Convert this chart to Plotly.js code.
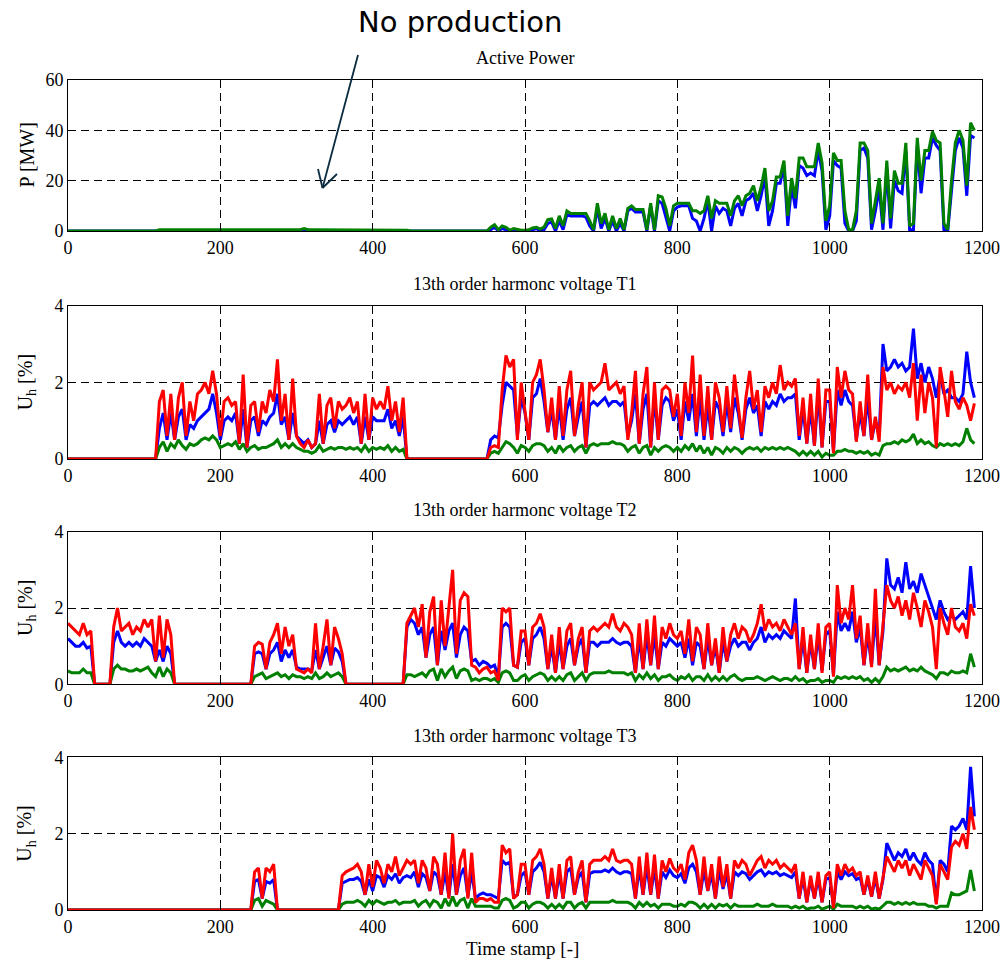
<!DOCTYPE html>
<html>
<head>
<meta charset="utf-8">
<script src="https://cdn.plot.ly/plotly-3.0.1.min.js"></script>
<style>
  html, body { margin: 0; padding: 0; background: #fff; }
  #chart { width: 1003px; height: 963px; }
</style>
</head>
<body>
<div id="chart"></div>
<script>
// ---------------- DATA ----------------
// time stamps 0..1190, sampled every 5
const timeStamps = [];
for (let t = 0; t <= 1190; t += 5) timeStamps.push(t);

const xTicks = [0, 200, 400, 600, 800, 1000, 1200];
const pTicks = [0, 20, 40, 60];
const uTicks = [0, 2, 4];

const titles = ["Active Power", "13th order harmonc voltage T1", "13th order harmonc voltage T2", "13th order harmonc voltage T3"];

// Active power P [MW]
const pGreen = [
0,0,0,0,0,0,0,0,0,0,0,0,0,0,0,0,0,0,0,0,
0,0,0,0,0.5,0.5,0.5,0.5,0.5,0.5,0.5,0.5,0.5,0.5,0.5,0.5,0.5,0.5,0.5,0.5,
0.5,0.5,0.5,0.5,0.5,0.5,0.5,0.5,0.5,0.5,0.5,0.5,0.5,0.5,0.5,0.5,0.5,0.5,0.5,0.5,
0.5,0.5,1,0.5,0.5,0.5,0.5,0.5,0.5,0.5,0.5,0.5,0.5,0.5,0.5,0.5,0.5,0.5,0.5,0.5,
0.5,0.5,0.5,0.5,0.5,0.5,0.5,0.5,0.5,0.3,0,0,0,0,0,0,0,0,0,0,
0,0,0,0,0,0,0,0,0,0,0,1.5,2.5,0.5,2,1.5,0.3,1,0.5,0.3,
0.3,0.5,1.2,1.5,0.8,1.5,4.5,4.8,1,6,2,8,7,7,7,7,7,4,0.5,11,
3,7,0.5,6,1,5,0.5,9,10,8.5,8.5,8.5,0.5,11,0.5,14,13.5,9,2,10,
11,11,11,11,8,8,7,8,14,5,12,11,11,11,6,12,14,10,14,15,
18,12,17.5,25,8,12,21.5,21.5,28,6,21,13,29,29,25.5,25.5,25.5,35,27,4,
10,31,28,28,8,0.5,0.5,8,35,35,32,3,12,21,3,28,5,24,19,19,
35,2,3,37,20,32,32,39.5,36,35,3,0.5,20,35,40,36,18,43,40
];
const pBlue = [
0,0,0,0,0,0,0,0,0,0,0,0,0,0,0,0,0,0,0,0,
0,0,0,0,0,0,0,0,0,0,0,0,0,0,0,0,0,0,0,0,
0,0,0,0,0,0,0,0,0,0,0,0,0,0,0,0,0,0,0,0,
0,0,0,0,0,0,0,0,0,0,0,0,0,0,0,0,0,0,0,0,
0,0,0,0,0,0,0,0,0,0,0,0,0,0,0,0,0,0,0,0,
0,0,0,0,0,0,0,0,0,0,0,0.5,1.5,0,1,0.5,0,0.3,0,0,
0,0,0.5,1,0,0.5,3,3.5,0,4,0.5,6.5,6,6,6,6,5.5,2,0,9,
1,5,0,4,0,3,0,8,9,7.5,7.5,7.5,0,10,0,12,11,5,0,8,
9.5,10,10,10,5,4,0,5,12,0,10,7,9,8,2,9,11,6,12,13,
15,8,14,22,2,8,19,19,26,2,18,9,26,25,22,23,22,32,24,0.5,
6,28,26,25,3,0,0,4,32,33,29,0.5,8,17,0.5,25,1,20,16,15,
32,0.5,0.5,34,15,29,29,37,34,32,0.5,0,16,32,37,33,14,38,37
];

// 13th harmonic voltage T1 [%]
const t1Red = [
0,0,0,0,0,0,0,0,0,0,0,0,0,0,0,0,0,0,0,0,
0,0,0,0,1.5,1.8,0.6,1.7,0.5,1.6,2.0,0.6,1.5,1.0,1.7,1.8,2.0,1.7,2.3,1.7,
0.6,1.5,1.6,1.4,1.5,0.4,2.2,0.3,1.4,1.5,0.7,1.5,1.2,1.8,1.5,2.6,1.0,1.7,0.5,2.1,
0.6,0.4,0.3,0.5,0.3,0.4,1.7,0.4,1.4,1.6,0.8,1.5,1.3,1.4,1.6,1.2,1.5,0.4,1.7,0.5,
1.6,1.3,1.5,1.3,1.9,1.0,1.5,0.7,1.6,0,0,0,0,0,0,0,0,0,0,0,
0,0,0,0,0,0,0,0,0,0,0,0.3,0.35,0.3,1.8,2.7,2.4,2.6,0.5,2.0,
1.3,0.5,2.0,2.2,2.6,1.8,0.7,1.6,0.5,1.9,0.6,1.8,2.3,0.6,1.4,2.0,0.3,2.0,1.8,1.9,
2.0,2.5,1.8,1.9,2.0,1.7,1.9,0.5,1.2,2.3,0.4,1.7,2.4,0.3,2.0,0.5,1.8,1.9,1.8,1.1,
1.7,0.6,2.0,1.2,2.7,0.7,2.2,0.6,1.9,0.5,2.0,1.6,0.7,1.9,0.8,2.2,1.4,0.55,1.6,2.3,
1.3,1.8,0.7,1.9,1.6,2.0,1.7,2.45,1.8,2.0,1.9,2.1,0.6,1.6,0.4,1.7,0.35,2.1,0.3,1.8,
1.8,0.15,2.4,1.6,2.3,1.8,1.7,0.45,1.5,0.6,2.2,0.5,1.1,0.45,2.4,1.8,2.0,1.7,1.9,1.8,
2.0,1.6,2.5,1.0,2.2,1.2,2.0,1.6,0.3,2.4,1.8,1.1,2.3,1.5,1.3,1.6,1.4,1.0,1.45
];
const t1Blue = [
0,0,0,0,0,0,0,0,0,0,0,0,0,0,0,0,0,0,0,0,
0,0,0,0,0.8,1.2,0.5,1.2,0.5,1.1,1.3,0.5,0.9,0.8,1.0,1.1,1.2,1.3,1.7,1.2,
0.5,1.0,1.1,1.0,1.2,0.4,1.3,0.3,1.0,1.1,0.6,1.0,0.9,1.1,1.2,1.7,0.9,1.1,0.5,1.2,
0.6,0.5,0.4,0.5,0.3,0.4,1.0,0.4,0.9,1.0,0.7,1.0,0.9,1.0,1.1,0.9,1.1,0.4,1.1,0.5,
1.1,1.0,1.0,1.0,1.3,0.8,1.0,0.6,1.1,0,0,0,0,0,0,0,0,0,0,0,
0,0,0,0,0,0,0,0,0,0,0,0.5,0.6,0.55,1.4,2.0,1.9,1.8,0.6,1.6,
1.2,0.5,1.6,1.7,2.1,1.5,0.7,1.3,0.5,1.4,0.5,1.3,1.6,0.6,1.1,1.5,0.3,1.4,1.5,1.4,
1.5,1.6,1.4,1.5,1.5,1.4,1.5,0.6,1.0,1.7,0.4,1.3,1.7,0.3,1.6,0.5,1.4,1.6,1.5,1.0,
1.3,0.5,1.5,1.0,1.7,0.6,1.6,0.5,1.4,0.5,1.5,1.3,0.6,1.5,0.7,1.6,1.2,0.5,1.3,1.6,
1.2,1.4,0.6,1.5,1.3,1.5,1.4,1.7,1.5,1.6,1.6,1.7,0.5,1.3,0.4,1.3,0.35,1.7,0.3,1.5,
1.5,0.2,1.8,1.4,1.8,1.5,1.4,0.5,1.2,0.6,1.6,0.5,1.0,0.6,3.0,2.3,2.4,2.6,2.4,2.5,
2.3,2.4,3.4,2.1,2.5,2.0,2.4,2.1,1.6,2.2,1.7,1.8,1.6,1.6,1.5,1.7,2.8,2.0,1.6
];
const t1Green = [
0,0,0,0,0,0,0,0,0,0,0,0,0,0,0,0,0,0,0,0,
0,0,0,0,0.3,0.45,0.2,0.4,0.3,0.5,0.35,0.25,0.4,0.35,0.4,0.5,0.55,0.5,0.6,0.5,
0.3,0.35,0.4,0.35,0.45,0.25,0.4,0.2,0.3,0.35,0.25,0.3,0.3,0.35,0.4,0.5,0.3,0.4,0.3,0.4,
0.3,0.25,0.2,0.2,0.15,0.2,0.35,0.2,0.25,0.3,0.25,0.3,0.3,0.25,0.3,0.25,0.3,0.2,0.35,0.2,
0.3,0.25,0.3,0.25,0.35,0.2,0.3,0.2,0.25,0,0,0,0,0,0,0,0,0,0,0,
0,0,0,0,0,0,0,0,0,0,0,0.15,0.2,0.15,0.3,0.45,0.4,0.3,0.15,0.35,
0.3,0.2,0.35,0.4,0.4,0.35,0.2,0.3,0.15,0.35,0.2,0.3,0.35,0.2,0.3,0.35,0.15,0.35,0.4,0.35,
0.4,0.4,0.4,0.45,0.4,0.4,0.35,0.2,0.3,0.35,0.15,0.3,0.35,0.1,0.3,0.2,0.3,0.35,0.3,0.2,
0.3,0.2,0.35,0.25,0.4,0.2,0.35,0.15,0.3,0.1,0.3,0.25,0.15,0.3,0.2,0.3,0.25,0.15,0.25,0.3,
0.25,0.3,0.2,0.3,0.25,0.3,0.25,0.3,0.25,0.3,0.25,0.2,0.1,0.2,0.1,0.2,0.1,0.2,0.05,0.15,
0.1,0.1,0.2,0.2,0.25,0.2,0.2,0.15,0.2,0.15,0.2,0.1,0.15,0.1,0.35,0.4,0.4,0.45,0.4,0.5,
0.45,0.5,0.65,0.4,0.5,0.4,0.45,0.35,0.3,0.4,0.35,0.4,0.35,0.4,0.35,0.45,0.8,0.5,0.4
];

// 13th harmonic voltage T2 [%]
const t2Red = [
1.6,1.5,1.4,1.3,1.6,1.3,1.4,0,0,0,0,0,1.5,2.0,1.4,1.5,1.6,1.3,1.5,1.4,
1.7,1.5,1.7,0.6,1.8,0.7,1.7,1.3,0,0,0,0,0,0,0,0,0,0,0,0,
0,0,0,0,0,0,0,0,0,1.0,1.1,1.05,0.4,1.1,1.3,1.6,0.8,1.5,1.0,1.3,
0.4,0.35,0.3,0.4,0.3,1.6,0.4,1.0,1.7,0.5,1.5,1.2,0.8,0,0,0,0,0,0,0,
0,0,0,0,0,0,0,0,0,1.6,1.8,2.0,1.5,2.1,0.7,1.9,2.3,0.5,2.2,1.0,
2.0,3.0,0.8,2.2,2.4,2.3,0.5,0.45,0.3,0.4,0.45,0.3,0.35,0.1,2.0,1.9,2.0,0.5,0.45,1.4,
1.4,0.5,1.5,1.6,1.85,1.5,0.4,1.3,0.3,1.5,0.4,1.4,1.6,0.5,1.2,1.5,0.3,1.4,1.5,1.4,
1.5,1.6,1.5,1.85,1.5,1.4,1.6,1.5,1.3,0.3,1.6,0.4,1.7,0.5,1.8,0.4,1.5,1.2,1.6,1.3,
1.2,1.4,0.8,1.7,0.6,1.5,1.3,0.4,1.6,0.5,1.2,0.3,1.5,0.6,1.3,1.6,1.2,1.5,1.4,1.1,
1.3,1.6,2.1,1.4,1.7,1.5,1.6,1.4,1.7,1.5,1.3,1.6,0.4,1.5,0.3,1.3,0.4,1.6,0.3,1.5,
1.6,0.2,2.6,1.6,2.0,1.7,2.6,1.2,1.8,0.5,1.6,0.45,2.5,0.5,1.6,2.6,2.2,2.0,2.3,1.8,
2.2,1.7,2.4,2.0,1.5,2.2,1.9,1.5,0.4,2.0,1.6,1.3,2.0,1.5,1.4,1.6,1.2,2.1,1.8
];
const t2Blue = [
1.2,1.1,1.0,1.0,1.1,0.95,1.0,0,0,0,0,0,1.1,1.4,1.1,1.0,1.1,1.0,1.1,1.0,
1.2,1.1,1.0,0.6,0.9,0.6,1.0,0.8,0,0,0,0,0,0,0,0,0,0,0,0,
0,0,0,0,0,0,0,0,0,0.8,0.85,0.8,0.4,0.8,0.9,1.1,0.6,0.9,0.7,0.9,
0.45,0.4,0.4,0.4,0.35,0.9,0.4,0.7,1.0,0.5,0.95,0.85,0.6,0,0,0,0,0,0,0,
0,0,0,0,0,0,0,0,0,1.5,1.7,1.6,1.3,1.5,0.7,1.3,1.5,0.5,1.4,0.9,
1.4,1.6,0.7,1.3,1.5,1.4,0.6,0.65,0.5,0.6,0.55,0.45,0.5,0.2,1.5,1.6,1.5,0.5,0.45,1.1,
1.2,0.5,1.2,1.3,1.5,1.2,0.4,1.0,0.3,1.1,0.4,1.0,1.2,0.5,1.0,1.2,0.3,1.1,1.1,1.0,
1.1,1.1,1.1,1.2,1.1,1.05,1.1,1.1,1.0,0.3,1.2,0.4,1.3,0.5,1.3,0.4,1.1,1.0,1.2,1.1,
1.0,1.1,0.7,1.2,0.5,1.1,1.0,0.4,1.2,0.5,1.0,0.3,1.1,0.6,1.0,1.2,1.0,1.1,1.1,0.9,
1.1,1.2,1.5,1.1,1.3,1.2,1.3,1.2,1.4,1.3,1.2,2.25,0.4,1.2,0.3,1.1,0.4,1.3,0.35,1.3,
1.4,0.25,1.9,1.4,1.6,1.4,1.9,1.1,1.5,0.5,1.3,0.5,1.8,0.5,1.4,3.3,2.6,2.5,2.8,2.4,
3.2,2.5,2.7,2.4,2.9,2.6,2.3,2.0,1.7,2.2,1.9,1.7,1.8,1.7,1.8,1.9,1.7,3.1,2.0
];
const t2Green = [
0.35,0.3,0.3,0.3,0.4,0.3,0.3,0,0,0,0,0,0.4,0.5,0.4,0.4,0.35,0.35,0.4,0.35,
0.4,0.45,0.3,0.2,0.45,0.2,0.4,0.3,0,0,0,0,0,0,0,0,0,0,0,0,
0,0,0,0,0,0,0,0,0,0.2,0.25,0.3,0.15,0.2,0.25,0.3,0.2,0.25,0.15,0.25,
0.2,0.2,0.15,0.2,0.15,0.3,0.15,0.2,0.3,0.2,0.25,0.3,0.2,0,0,0,0,0,0,0,
0,0,0,0,0,0,0,0,0,0.25,0.25,0.2,0.25,0.3,0.2,0.35,0.4,0.1,0.4,0.2,
0.35,0.45,0.15,0.35,0.4,0.35,0.1,0.15,0.1,0.15,0.15,0.1,0.15,0.05,0.3,0.35,0.3,0.1,0.1,0.2,
0.25,0.1,0.2,0.25,0.3,0.25,0.1,0.2,0.1,0.2,0.1,0.25,0.3,0.1,0.2,0.3,0.1,0.25,0.3,0.3,
0.3,0.3,0.35,0.3,0.3,0.3,0.3,0.25,0.3,0.1,0.25,0.15,0.3,0.15,0.25,0.1,0.2,0.2,0.25,0.15,
0.1,0.2,0.15,0.25,0.1,0.2,0.2,0.1,0.25,0.1,0.2,0.1,0.2,0.1,0.2,0.25,0.15,0.1,0.15,0.15,
0.15,0.2,0.15,0.1,0.15,0.2,0.15,0.1,0.15,0.15,0.1,0.2,0.1,0.15,0.05,0.1,0.1,0.15,0.05,0.1,
0.1,0.05,0.2,0.15,0.2,0.15,0.2,0.15,0.2,0.1,0.15,0.05,0.15,0.05,0.2,0.45,0.35,0.4,0.35,0.4,
0.45,0.35,0.4,0.35,0.45,0.35,0.3,0.25,0.15,0.3,0.3,0.25,0.35,0.3,0.3,0.35,0.3,0.8,0.45
];

// 13th harmonic voltage T3 [%]
const t3Red = [
0,0,0,0,0,0,0,0,0,0,0,0,0,0,0,0,0,0,0,0,
0,0,0,0,0,0,0,0,0,0,0,0,0,0,0,0,0,0,0,0,
0,0,0,0,0,0,0,0,0,1.0,1.1,0.3,1.1,1.0,1.2,0,0,0,0,0,
0,0,0,0,0,0,0,0,0,0,0,0,0.9,1.0,1.05,1.1,1.2,1.0,0.4,1.2,
0.6,1.3,1.1,0.7,1.2,1.0,1.4,0.9,1.1,1.3,1.2,1.3,0.7,1.3,1.1,0.5,1.4,1.2,0.4,1.5,
0.3,2.0,0.4,1.3,1.6,0.3,1.5,0.2,0.3,0.3,0.25,0.3,0.2,0.2,1.7,1.5,1.6,0.3,0.4,1.2,
1.2,0.4,1.3,1.4,1.6,1.2,0.3,1.1,0.3,1.2,0.3,1.3,1.4,0.4,1.0,1.3,0.2,1.2,1.3,1.3,
1.3,1.4,1.3,1.6,1.3,1.25,1.3,1.3,1.2,0.3,1.4,0.4,1.5,0.4,1.45,0.3,1.3,1.0,1.35,1.1,
1.0,1.2,0.8,1.5,1.7,1.3,0.4,1.4,0.5,1.2,0.3,1.4,0.6,1.2,0.3,1.3,1.1,1.3,1.2,0.9,
1.1,1.3,1.4,1.1,1.3,1.2,1.3,1.1,1.2,1.1,1.0,1.2,0.3,1.0,0.2,0.9,0.3,1.0,0.2,0.9,
1.0,0.05,1.2,0.9,1.2,1.0,1.1,0.9,1.0,0.4,0.9,0.35,1.0,0.3,0.8,1.4,1.2,1.0,1.3,1.1,
1.3,0.9,1.2,1.0,0.8,1.3,1.1,0.9,0.15,1.2,1.0,0.8,1.65,1.8,1.7,2.0,1.6,2.7,2.1
];
const t3Blue = [
0,0,0,0,0,0,0,0,0,0,0,0,0,0,0,0,0,0,0,0,
0,0,0,0,0,0,0,0,0,0,0,0,0,0,0,0,0,0,0,0,
0,0,0,0,0,0,0,0,0,0.75,0.8,0.3,0.75,0.7,0.8,0,0,0,0,0,
0,0,0,0,0,0,0,0,0,0,0,0,0.7,0.75,0.8,0.8,0.85,0.75,0.4,0.8,
0.5,0.9,0.85,0.6,0.9,0.8,0.95,0.7,0.85,0.9,0.85,1.0,0.6,0.95,0.85,0.5,1.0,0.9,0.4,1.0,
0.35,1.2,0.4,0.9,1.1,0.35,1.0,0.3,0.4,0.45,0.4,0.4,0.35,0.3,1.3,1.2,1.25,0.35,0.4,0.9,
1.0,0.4,1.0,1.1,1.25,1.0,0.3,0.9,0.3,0.95,0.3,1.0,1.1,0.4,0.85,1.0,0.2,0.95,1.0,1.0,
1.0,1.05,1.0,1.1,1.0,0.95,1.0,1.0,0.95,0.3,1.1,0.4,1.15,0.4,1.1,0.3,1.0,0.85,1.05,0.9,
0.85,0.95,0.7,1.1,1.2,1.0,0.4,1.05,0.5,0.95,0.3,1.05,0.55,0.95,0.3,1.0,0.9,1.0,0.95,0.8,
0.9,1.0,1.05,0.9,1.0,0.95,1.0,0.9,0.95,0.9,0.85,1.0,0.3,0.85,0.2,0.8,0.3,0.85,0.2,0.8,
0.85,0.1,1.0,0.8,1.0,0.9,0.95,0.8,0.85,0.4,0.8,0.35,0.85,0.3,0.8,1.75,1.5,1.3,1.5,1.4,
1.6,1.3,1.5,1.3,1.2,1.5,1.3,1.2,0.2,1.3,1.2,1.0,2.2,2.1,2.2,2.4,2.1,3.75,2.45
];
const t3Green = [
0,0,0,0,0,0,0,0,0,0,0,0,0,0,0,0,0,0,0,0,
0,0,0,0,0,0,0,0,0,0,0,0,0,0,0,0,0,0,0,0,
0,0,0,0,0,0,0,0,0,0.25,0.3,0.1,0.25,0.2,0.15,0,0,0,0,0,
0,0,0,0,0,0,0,0,0,0,0,0,0.15,0.2,0.2,0.2,0.25,0.2,0.1,0.25,
0.15,0.25,0.2,0.15,0.2,0.2,0.25,0.15,0.2,0.2,0.2,0.25,0.1,0.2,0.25,0.1,0.25,0.2,0.05,0.3,
0.1,0.35,0.1,0.25,0.3,0.05,0.3,0.1,0.1,0.1,0.1,0.1,0.05,0.05,0.25,0.3,0.25,0.05,0.1,0.2,
0.2,0.05,0.15,0.2,0.2,0.15,0.05,0.15,0.05,0.15,0.05,0.2,0.2,0.05,0.15,0.2,0.05,0.2,0.2,0.2,
0.2,0.2,0.2,0.25,0.2,0.2,0.2,0.2,0.15,0.05,0.2,0.1,0.2,0.1,0.15,0.05,0.15,0.15,0.15,0.1,
0.1,0.15,0.1,0.2,0.2,0.15,0.05,0.15,0.05,0.15,0.05,0.15,0.1,0.15,0.05,0.15,0.1,0.1,0.1,0.1,
0.1,0.15,0.1,0.1,0.1,0.15,0.1,0.1,0.1,0.1,0.05,0.1,0.05,0.1,0.02,0.05,0.05,0.1,0.02,0.05,
0.1,0.02,0.15,0.1,0.1,0.1,0.1,0.05,0.1,0.05,0.1,0.02,0.05,0.02,0.1,0.2,0.2,0.15,0.2,0.15,
0.2,0.15,0.2,0.15,0.15,0.15,0.1,0.1,0.05,0.1,0.1,0.1,0.45,0.4,0.4,0.45,0.5,1.05,0.5
];

// ---------------- CHART ----------------
const seriesCheck = {pGreen, pBlue, t1Red, t1Blue, t1Green, t2Red, t2Blue, t2Green, t3Red, t3Blue, t3Green};
for (const k in seriesCheck) {
  if (seriesCheck[k].length !== timeStamps.length) {
    throw new Error(k + " length " + seriesCheck[k].length + " != " + timeStamps.length);
  }
}

const BLUE = '#0000ff', GREEN = '#008000', RED = '#ff0000';
const LW = 3;
const SERIF = 'Liberation Serif, Times New Roman, serif';

function line(y, color, xa, ya) {
  return {x: timeStamps, y: y, type: 'scatter', mode: 'lines', xaxis: xa, yaxis: ya,
          line: {color: color, width: LW}, hoverinfo: 'skip', showlegend: false};
}

const traces = [
  line(pBlue, BLUE, 'x', 'y'),
  line(pGreen, GREEN, 'x', 'y'),
  line(t1Blue, BLUE, 'x2', 'y2'),
  line(t1Green, GREEN, 'x2', 'y2'),
  line(t1Red, RED, 'x2', 'y2'),
  line(t2Blue, BLUE, 'x3', 'y3'),
  line(t2Green, GREEN, 'x3', 'y3'),
  line(t2Red, RED, 'x3', 'y3'),
  line(t3Blue, BLUE, 'x4', 'y4'),
  line(t3Green, GREEN, 'x4', 'y4'),
  line(t3Red, RED, 'x4', 'y4')
];

const W = 1003, H = 963;
const xDom = [68 / W, 982 / W];
function yDom(top, bottom) { return [1 - bottom / H, 1 - top / H]; }
const boxes = [[80, 231], [305.7, 459], [531.7, 684.3], [757.3, 910]];
const TICKFONT = {family: SERIF, size: 18, color: '#000'};

function xAxis(anchor) {
  return {
    domain: xDom, anchor: anchor, range: [0, 1200], tickvals: xTicks,
    ticks: 'inside', ticklen: 5, tickcolor: '#000', tickwidth: 1,
    showline: true, linecolor: '#000', linewidth: 1, mirror: 'ticks',
    showgrid: true, gridcolor: '#000', gridwidth: 1, griddash: '8px,5px',
    zeroline: false, tickfont: TICKFONT, fixedrange: true
  };
}
function yAxis(anchor, box, range, vals) {
  return {
    domain: yDom(box[0], box[1]), anchor: anchor, range: range, tickvals: vals,
    ticks: 'inside', ticklen: 5, tickcolor: '#000', tickwidth: 1,
    showline: true, linecolor: '#000', linewidth: 1, mirror: 'ticks',
    showgrid: true, gridcolor: '#000', gridwidth: 1, griddash: '8px,5px',
    zeroline: false, tickfont: TICKFONT, fixedrange: true
  };
}

const annotations = [];
const titleY = [58, 284, 510, 736];
titles.forEach((t, i) => {
  annotations.push({text: t, xref: 'paper', yref: 'paper', x: 525 / W, y: 1 - titleY[i] / H,
    xanchor: 'center', yanchor: 'middle', showarrow: false,
    font: {family: SERIF, size: 18, color: '#000'}});
});
const yLabels = ['P [MW]', 'U<sub>h</sub> [%]', 'U<sub>h</sub> [%]', 'U<sub>h</sub> [%]'];
yLabels.forEach((t, i) => {
  const cy = (boxes[i][0] + boxes[i][1]) / 2;
  annotations.push({text: t, xref: 'paper', yref: 'paper', x: 26 / W, y: 1 - cy / H,
    xanchor: 'center', yanchor: 'middle', showarrow: false, textangle: -90,
    font: {family: SERIF, size: 20, color: '#000'}});
});
annotations.push({text: 'Time stamp [-]', xref: 'paper', yref: 'paper', x: 522 / W, y: 1 - 948 / H,
  xanchor: 'center', yanchor: 'middle', showarrow: false,
  font: {family: SERIF, size: 19, color: '#000'}});
annotations.push({text: 'No production', xref: 'paper', yref: 'paper', x: 460 / W, y: 1 - 22 / H,
  xanchor: 'center', yanchor: 'middle', showarrow: false,
  font: {family: 'DejaVu Sans, Verdana, sans-serif', size: 29, color: '#000'}});

// arrow pointing at the no-production period (drawn as lines in page pixels)
const ARROW = '#0b2b40';
function px(x) { return x / W; }
function py(y) { return 1 - y / H; }
const arrowSegs = [
  [358, 55, 322.5, 188],
  [322.5, 188, 318, 169],
  [322.5, 188, 337, 174]
];
const shapes = arrowSegs.map(s => ({
  type: 'line', xref: 'paper', yref: 'paper',
  x0: px(s[0]), y0: py(s[1]), x1: px(s[2]), y1: py(s[3]),
  line: {color: ARROW, width: 1.8}
}));

const layout = {
  width: W, height: H,
  margin: {l: 0, r: 0, t: 0, b: 0},
  paper_bgcolor: '#fff', plot_bgcolor: '#fff',
  showlegend: false,
  xaxis: xAxis('y'), yaxis: yAxis('x', boxes[0], [0, 60], pTicks),
  xaxis2: xAxis('y2'), yaxis2: yAxis('x2', boxes[1], [0, 4], uTicks),
  xaxis3: xAxis('y3'), yaxis3: yAxis('x3', boxes[2], [0, 4], uTicks),
  xaxis4: xAxis('y4'), yaxis4: yAxis('x4', boxes[3], [0, 4], uTicks),
  annotations: annotations,
  shapes: shapes
};

Plotly.newPlot('chart', traces, layout, {staticPlot: true, displayModeBar: false});
</script>
</body>
</html>
